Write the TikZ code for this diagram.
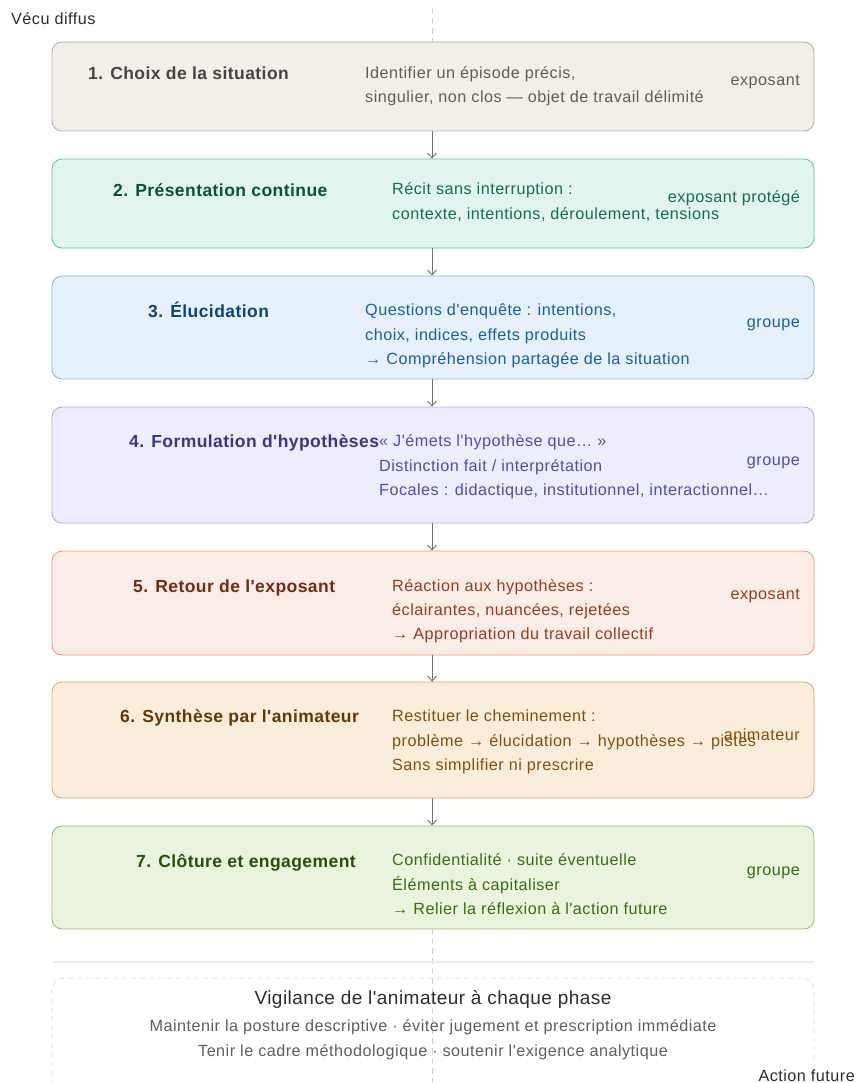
\documentclass[tikz,border=0pt]{standalone}
\usepackage{fontspec}
\setmainfont{Liberation Sans}
\newfontfamily\descfont[LetterSpace=3]{Liberation Sans}
\newfontfamily\ttlfont[LetterSpace=2.5]{Liberation Sans}
\usetikzlibrary{arrows.meta}
\definecolor{f1}{HTML}{F1EFE8}\definecolor{s1}{HTML}{B4B2A9}\definecolor{t1}{HTML}{444441}\definecolor{d1}{HTML}{5F5E5A}
\definecolor{f2}{HTML}{E1F5EE}\definecolor{s2}{HTML}{5DCAA5}\definecolor{t2}{HTML}{085041}\definecolor{d2}{HTML}{0F6E56}
\definecolor{f3}{HTML}{E6F1FB}\definecolor{s3}{HTML}{85B7EB}\definecolor{t3}{HTML}{0C447C}\definecolor{d3}{HTML}{185FA5}
\definecolor{f4}{HTML}{EEEDFE}\definecolor{s4}{HTML}{AFA9EC}\definecolor{t4}{HTML}{3C3489}\definecolor{d4}{HTML}{534AB7}
\definecolor{f5}{HTML}{FAECE7}\definecolor{s5}{HTML}{F0997B}\definecolor{t5}{HTML}{712B13}\definecolor{d5}{HTML}{993C1D}
\definecolor{f6}{HTML}{FAEEDA}\definecolor{s6}{HTML}{E0A95E}\definecolor{t6}{HTML}{633806}\definecolor{d6}{HTML}{854F0B}
\definecolor{f7}{HTML}{EAF3DE}\definecolor{s7}{HTML}{97C459}\definecolor{t7}{HTML}{27500A}\definecolor{d7}{HTML}{3B6D11}
\definecolor{arrowc}{HTML}{73726C}\definecolor{guide}{HTML}{CFCFCF}\definecolor{ink}{HTML}{2C2C2A}
\definecolor{sepc}{HTML}{EDEDED}\definecolor{footd}{HTML}{DDDDDD}
\tikzset{
  phase/.style={draw, line width=0.9pt, rounded corners=10pt, minimum width=762pt, inner sep=0pt},
  ttl/.style={anchor=base west, inner sep=0pt, font=\ttlfont\fontsize{17.5}{20}\selectfont\bfseries},
  dsc/.style={anchor=base west, inner sep=0pt, font=\descfont\fontsize{16.2}{18}\selectfont},
  role/.style={anchor=base east, inner sep=0pt, font=\descfont\fontsize{16.2}{18}\selectfont},
  flow/.style={draw=arrowc, line width=0.9pt, -{Straight Barb[length=5pt,width=9pt,line width=0.9pt]}},
  plain/.style={inner sep=0pt, font=\descfont\fontsize{16.2}{18}\selectfont}
}
\begin{document}
\begin{tikzpicture}[x=1pt,y=-1pt]
\useasboundingbox (0,0) rectangle (857,1083);
% guide line
\coordinate (gtop) at (432,8);
\coordinate (gbot) at (432,1083);
\draw[guide, line width=0.8pt, dash pattern=on 6pt off 4pt] (gtop) -- (gbot);
% footer separator
\coordinate (sepl) at (52,962);
\coordinate (sepr) at (814,962);
\draw[sepc, line width=1.4pt] (sepl) -- (sepr);
\node[draw=footd, dash pattern=on 5pt off 4pt, line width=0.8pt, rounded corners=12pt, minimum width=762pt, minimum height=130pt, inner sep=0pt] (foot) at (433,1043) {};
% phases
\node[phase, fill=f1, draw=s1, minimum height=89pt] (b1) at (433,86.5) {};
\node[phase, fill=f2, draw=s2, minimum height=89pt] (b2) at (433,203.5) {};
\node[phase, fill=f3, draw=s3, minimum height=103pt] (b3) at (433,327.5) {};
\node[phase, fill=f4, draw=s4, minimum height=116pt] (b4) at (433,465) {};
\node[phase, fill=f5, draw=s5, minimum height=104pt] (b5) at (433,603) {};
\node[phase, fill=f6, draw=s6, minimum height=116pt] (b6) at (433,740) {};
\node[phase, fill=f7, draw=s7, minimum height=103pt] (b7) at (433,877.5) {};
\foreach \a/\b in {b1/b2,b2/b3,b3/b4,b4/b5,b5/b6,b6/b7}
  \draw[flow] ([xshift=-1pt]\a.south) -- ([xshift=-1pt]\b.north);
% texts box 1
\node[ttl, text=t1] (ti1) at (88,80) {1. Choix de la situation};
\node[dsc, text=d1] (d1a) at (365,79) {Identifier un épisode précis,};
\node[dsc, text=d1] (d1b) at (365,103) {singulier, non clos — objet de travail délimité};
\node[role, text=d1] (r1) at (800,86) {exposant};
% box 2
\node[ttl, text=t2] (ti2) at (113,197) {2. Présentation continue};
\node[dsc, text=d2] (d2a) at (392,195) {Récit sans interruption :};
\node[dsc, text=d2] (d2b) at (392,220) {contexte, intentions, déroulement, tensions};
\node[role, text=d2] (r2) at (800,203) {exposant protégé};
% box 3
\node[ttl, text=t3] (ti3) at (148,317) {3. Élucidation};
\node[dsc, text=d3] (d3a) at (365,315) {Questions d'enquête : intentions,};
\node[dsc, text=d3] (d3b) at (365,340) {choix, indices, effets produits};
\node[dsc, text=d3] (d3c) at (365,364) {→ Compréhension partagée de la situation};
\node[role, text=d3] (r3) at (800,327) {groupe};
% box 4
\node[ttl, text=t4] (ti4) at (129,447) {4. Formulation d'hypothèses};
\node[dsc, text=d4] (d4a) at (379,446) {« J'émets l'hypothèse que… »};
\node[dsc, text=d4] (d4b) at (379,471) {Distinction fait / interprétation};
\node[dsc, text=d4] (d4c) at (379,495) {Focales : didactique, institutionnel, interactionnel…};
\node[role, text=d4] (r4) at (800,465) {groupe};
% box 5
\node[ttl, text=t5] (ti5) at (133,592) {5. Retour de l'exposant};
\node[dsc, text=d5] (d5a) at (392,591) {Réaction aux hypothèses :};
\node[dsc, text=d5] (d5b) at (392,615) {éclairantes, nuancées, rejetées};
\node[dsc, text=d5] (d5c) at (392,639) {→ Appropriation du travail collectif};
\node[role, text=d5] (r5) at (800,599) {exposant};
% box 6
\node[ttl, text=t6] (ti6) at (120,722) {6. Synthèse par l'animateur};
\node[dsc, text=d6] (d6a) at (392,721) {Restituer le cheminement :};
\node[dsc, text=d6] (d6b) at (392,746) {problème → élucidation → hypothèses → pistes};
\node[dsc, text=d6] (d6c) at (392,770) {Sans simplifier ni prescrire};
\node[role, text=d6] (r6) at (800,740) {animateur};
% box 7
\node[ttl, text=t7] (ti7) at (136,867) {7. Clôture et engagement};
\node[dsc, text=d7] (d7a) at (392,865) {Confidentialité · suite éventuelle};
\node[dsc, text=d7] (d7b) at (392,890) {Éléments à capitaliser};
\node[dsc, text=d7] (d7c) at (392,914) {→ Relier la réflexion à l'action future};
\node[role, text=d7] (r7) at (800,875) {groupe};
% footer texts
\node[inner sep=0pt, anchor=base, text=ink, font=\ttlfont\fontsize{19}{22}\selectfont] (vt) at (433,1004) {Vigilance de l'animateur à chaque phase};
\node[plain, anchor=base, text=d1] (v1) at (433,1031) {Maintenir la posture descriptive · éviter jugement et prescription immédiate};
\node[plain, anchor=base, text=d1] (v2) at (433,1056) {Tenir le cadre méthodologique · soutenir l'exigence analytique};
% side labels
\node[plain, anchor=base west, text=ink] (top) at (11,25) {Vécu diffus};
\node[plain, anchor=base east, text=ink] (bot) at (855,1081) {Action future};
\end{tikzpicture}
\end{document}
